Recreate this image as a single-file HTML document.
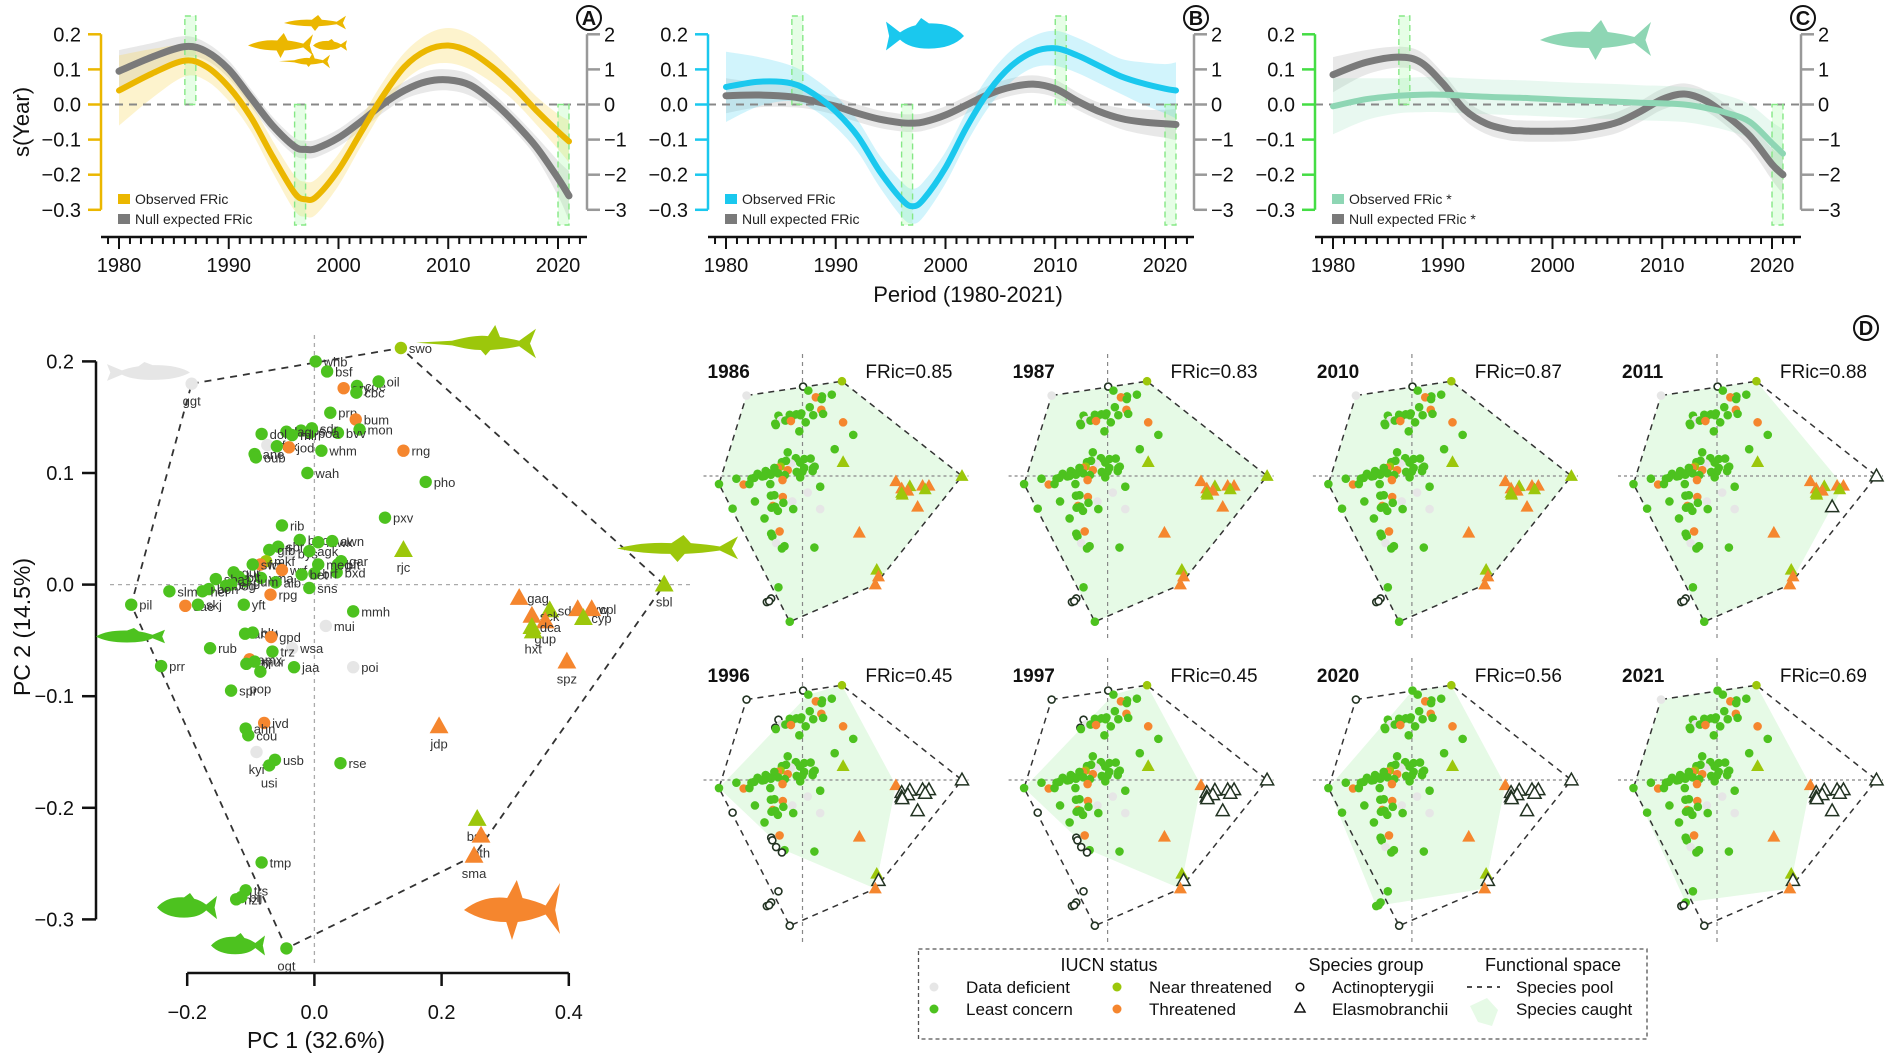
<!DOCTYPE html>
<html><head><meta charset="utf-8"><title>Functional richness figure</title>
<style>
html,body{margin:0;padding:0;background:#fff;}
svg{display:block;font-family:"Liberation Sans",Arial,sans-serif;}
</style></head>
<body>
<svg id="fig" width="1890" height="1055" viewBox="0 0 1890 1055" xmlns="http://www.w3.org/2000/svg"></svg>
<script>
// ---------- GAM panel data ----------
const years = [1980,1983,1986,1988,1990,1992,1994,1996,1997,1998,2000,2002,2004,2006,2008,2010,2012,2014,2016,2018,2020,2021];
const obsA = [0.04,0.088,0.125,0.107,0.05,-0.035,-0.148,-0.252,-0.27,-0.262,-0.186,-0.082,0.022,0.107,0.154,0.168,0.15,0.107,0.05,-0.016,-0.077,-0.105];
const obsSeA = [0.1,0.07,0.045,0.04,0.04,0.04,0.045,0.05,0.05,0.05,0.045,0.04,0.04,0.04,0.045,0.05,0.05,0.045,0.04,0.04,0.05,0.06];
const nullA = [0.95,1.35,1.65,1.5,1.0,0.2,-0.6,-1.2,-1.28,-1.25,-0.95,-0.5,0.0,0.4,0.65,0.7,0.55,0.1,-0.5,-1.2,-2.1,-2.6];
const nullSeA = [0.6,0.4,0.3,0.25,0.25,0.25,0.25,0.25,0.25,0.25,0.25,0.25,0.25,0.25,0.3,0.3,0.3,0.25,0.25,0.3,0.5,0.7];
const obsB = [0.05,0.065,0.06,0.03,-0.02,-0.09,-0.19,-0.27,-0.29,-0.27,-0.18,-0.06,0.04,0.11,0.15,0.16,0.14,0.11,0.08,0.06,0.045,0.04];
const obsSeB = [0.1,0.07,0.05,0.045,0.045,0.045,0.045,0.05,0.05,0.05,0.045,0.045,0.045,0.045,0.045,0.05,0.05,0.05,0.05,0.06,0.07,0.08];
const nullB = [0.25,0.27,0.22,0.1,-0.05,-0.25,-0.42,-0.52,-0.53,-0.5,-0.3,0.0,0.3,0.5,0.58,0.45,0.1,-0.2,-0.4,-0.5,-0.55,-0.57];
const nullSeB = [0.5,0.35,0.3,0.25,0.25,0.25,0.25,0.25,0.25,0.25,0.25,0.25,0.25,0.25,0.25,0.25,0.25,0.25,0.3,0.35,0.4,0.45];
const obsC = [-0.005,0.015,0.025,0.028,0.028,0.025,0.022,0.02,0.019,0.018,0.015,0.012,0.01,0.008,0.005,0.003,0.0,-0.01,-0.025,-0.05,-0.11,-0.14];
const obsSeC = [0.08,0.06,0.05,0.05,0.05,0.05,0.05,0.05,0.05,0.05,0.05,0.05,0.05,0.05,0.05,0.05,0.05,0.05,0.05,0.05,0.06,0.07];
const nullC = [0.85,1.2,1.35,1.2,0.6,-0.15,-0.55,-0.72,-0.75,-0.76,-0.76,-0.74,-0.65,-0.5,-0.2,0.15,0.3,0.1,-0.35,-0.9,-1.7,-2.0];
const nullSeC = [0.5,0.35,0.3,0.3,0.3,0.3,0.3,0.3,0.3,0.3,0.3,0.3,0.3,0.3,0.3,0.3,0.3,0.3,0.3,0.35,0.45,0.55];
const leftTicks = [0.2,0.1,0.0,-0.1,-0.2,-0.3];
const leftTickLabels = ["0.2","0.1","0.0","\u22120.1","\u22120.2","\u22120.3"];
const rightTicks = [2,1,0,-1,-2,-3];
const rightTickLabels = ["2","1","0","\u22121","\u22122","\u22123"];
const yearTicks = [1980,1990,2000,2010,2020];
const barsA = [[1986,"up"],[1996,"down"],[2020,"down"]];
const barsB = [[1986,"up"],[1996,"down"],[2010,"up"],[2020,"down"]];
const barsC = [[1986,"up"],[2020,"down"]];

// ---------- PCA data ----------
const spNames = ["ggt","swo","whb","bsf","coe","oil","ory","cbc","prp","bum","mon","bvv","jos","sdr","poa","lag","mlr","dol","sfs","flx","jod","ane","oub","whm","rng","wah","pho","pxv","rjc","rib","boc","mwk","awn","bys","agk","sbr","gfb","mkf","for","swa","wrf","bft","gar","bxd","meg","brf","bet","vma","alb","gum","gur","blt","sba","bog","ehi","bon","her","sns","rpg","slm","pil","sae","skj","yft","mmh","mui","amb","blu","gpd","rub","wsa","trz","amx","cbr","mur","jaa","poi","prr","pop","spr","ivd","ahn","cou","kyi","usb","usi","rse","jdp","tmp","trs","hzl","bij","ogt","bsh","bth","sma","sbl","gag","sdu","cyw","cpl","sck","cyp","gup","dca","hxt","spz"];
const spPC1 = [-0.193,0.136,0.002,0.020,0.067,0.101,0.046,0.066,0.025,0.065,0.071,0.037,-0.021,-0.004,-0.007,-0.044,-0.035,-0.083,-0.074,-0.059,-0.040,-0.094,-0.092,0.011,0.140,-0.011,0.175,0.111,0.140,-0.051,-0.023,0.006,0.028,-0.039,-0.008,-0.057,-0.071,-0.076,-0.085,-0.097,-0.051,0.037,0.042,0.035,0.006,0.000,-0.020,-0.084,-0.061,-0.109,-0.127,-0.119,-0.155,-0.139,-0.131,-0.166,-0.176,-0.008,-0.069,-0.228,-0.288,-0.203,-0.183,-0.111,0.061,0.018,-0.109,-0.097,-0.068,-0.164,-0.035,-0.066,-0.102,-0.107,-0.094,-0.032,0.061,-0.241,-0.085,-0.131,-0.079,-0.108,-0.104,-0.091,-0.062,-0.071,0.041,0.196,-0.083,-0.108,-0.123,-0.115,-0.044,0.256,0.262,0.251,0.550,0.322,0.370,0.414,0.436,0.342,0.423,0.363,0.342,0.344,0.397];
const spPC2 = [0.180,0.212,0.200,0.191,0.178,0.182,0.176,0.172,0.154,0.148,0.139,0.136,0.138,0.140,0.136,0.137,0.134,0.135,0.125,0.124,0.123,0.117,0.114,0.120,0.120,0.100,0.092,0.060,0.031,0.053,0.040,0.038,0.039,0.028,0.030,0.034,0.031,0.021,0.018,0.018,0.013,0.018,0.021,0.011,0.018,0.010,0.009,0.006,0.002,0.003,0.011,0.007,0.005,-0.001,0.000,-0.004,-0.006,-0.003,-0.009,-0.006,-0.018,-0.019,-0.018,-0.018,-0.024,-0.037,-0.044,-0.043,-0.047,-0.057,-0.057,-0.060,-0.067,-0.071,-0.069,-0.074,-0.074,-0.073,-0.078,-0.095,-0.124,-0.129,-0.135,-0.150,-0.157,-0.162,-0.160,-0.127,-0.249,-0.274,-0.282,-0.280,-0.326,-0.210,-0.225,-0.243,0.000,-0.012,-0.023,-0.022,-0.022,-0.028,-0.030,-0.033,-0.038,-0.042,-0.069];
const spStatus = ["DD","NT","LC","LC","LC","LC","TH","LC","LC","TH","LC","LC","LC","LC","LC","LC","LC","LC","DD","LC","TH","LC","LC","LC","TH","LC","LC","LC","NT","LC","LC","LC","LC","DD","LC","LC","LC","NT","TH","LC","TH","LC","LC","LC","LC","LC","LC","LC","LC","LC","LC","LC","LC","LC","LC","LC","LC","LC","TH","LC","LC","TH","LC","LC","LC","DD","LC","LC","TH","LC","DD","LC","TH","LC","LC","LC","DD","LC","LC","LC","TH","LC","LC","DD","LC","LC","LC","TH","LC","LC","LC","LC","LC","NT","TH","TH","NT","TH","NT","TH","TH","TH","NT","TH","NT","NT","TH"];
const spGroup = ["A","A","A","A","A","A","A","A","A","A","A","A","A","A","A","A","A","A","A","A","A","A","A","A","A","A","A","A","E","A","A","A","A","A","A","A","A","A","A","A","A","A","A","A","A","A","A","A","A","A","A","A","A","A","A","A","A","A","A","A","A","A","A","A","A","A","A","A","A","A","A","A","A","A","A","A","A","A","A","A","A","A","A","A","A","A","A","E","A","A","A","A","A","E","E","E","E","E","E","E","E","E","E","E","E","E","E"];
const labelsBelow = ["ggt","ogt","sbl","sma","spz","jdp","rjc","bth","bsh","hxt","gup","usi","kyi","pop"];
const poolHull = ["ggt","swo","sbl","sma","ogt","pil"];
const miniYears = ["1986","1987","2010","2011","1996","1997","2020","2021"];
const miniFRic = ["0.85","0.83","0.87","0.88","0.45","0.45","0.56","0.69"];
const caughtHulls = [
  ["ggt","swo","sbl","sma","ogt","pil"],
  ["ggt","swo","sbl","sma","ogt","pil"],
  ["ggt","swo","sbl","sma","ogt","pil"],
  ["ggt","swo","cpl","sma","ogt","pil"],
  ["bsf","swo","gag","sma","usb","pil"],
  ["bsf","swo","gag","sma","usb","pil"],
  ["whb","swo","gag","sma","hzl","pil"],
  ["ggt","whb","swo","gag","sma","trs","pil"]
];

// ---------- helpers ----------
const NS = "http://www.w3.org/2000/svg";
const svg = document.getElementById("fig");
function mk(tag, attrs, parent){
  const e = document.createElementNS(NS, tag);
  for (const k in attrs) e.setAttribute(k, attrs[k]);
  (parent||svg).appendChild(e);
  return e;
}
function txt(s, attrs, parent){ const e = mk("text", attrs, parent); e.textContent = s; return e; }
function smooth(pts){
  let d = "M"+pts[0][0].toFixed(1)+","+pts[0][1].toFixed(1);
  for (let i=0;i<pts.length-1;i++){
    const p0=pts[i-1]||pts[i], p1=pts[i], p2=pts[i+1], p3=pts[i+2]||pts[i+1];
    const c1=[p1[0]+(p2[0]-p0[0])/6, p1[1]+(p2[1]-p0[1])/6];
    const c2=[p2[0]-(p3[0]-p1[0])/6, p2[1]-(p3[1]-p1[1])/6];
    d += " C"+c1[0].toFixed(1)+","+c1[1].toFixed(1)+" "+c2[0].toFixed(1)+","+c2[1].toFixed(1)+" "+p2[0].toFixed(1)+","+p2[1].toFixed(1);
  }
  return d;
}
function bandPath(xs, up, lo){
  const u = xs.map((x,i)=>[x,up[i]]);
  const l = xs.map((x,i)=>[x,lo[i]]).reverse();
  return smooth(u) + " L" + smooth(l).slice(1) + " Z";
}
const SHARK = "M0,20 Q20,10 45,12 L55,0 L61,12 Q75,14 85,17 L100,2 L95,20 L100,36 L85,23 Q70,27 56,28 L50,40 L44,28 Q20,28 0,20 Z";
const FISH = "M0,20 Q15,5 45,6 L55,0 L62,8 Q72,10 82,16 L100,4 L96,20 L100,36 L82,24 Q70,34 45,34 Q15,34 0,20 Z";
const SWORD = "M0,19 L30,17 Q50,10 60,12 L66,0 L70,13 Q80,15 86,17 L100,4 L95,20 L100,36 L86,23 Q75,26 62,27 L58,33 L54,27 Q45,27 30,22 Z";
function sil(kind, x0, y0, w, h, color, name, flip){
  const g = mk("g", {transform:"translate("+(flip?x0+w:x0)+","+y0+") scale("+(flip?-w/100:w/100)+","+(h/40)+")"});
  
  
  mk("path", {d: kind==="shark"?SHARK:(kind==="sword"?SWORD:FISH), fill: color}, g);
}

// ---------- GAM panels ----------
function panel(off, obs, obsSe, nul, nulSe, col, bandCol, axisCol, bars, labels, letter, name){
  const g = mk("g", {});
  
  
  const X = yr => off + 119 + (yr-1980)*10.975;
  const YL = v => 104.5 - v*351;
  const YR = v => 104.5 - v*35.1;
  const xs = years.map(X);
  const nb = mk("path", {d: bandPath(xs, nul.map((v,i)=>YR(v+nulSe[i])), nul.map((v,i)=>YR(v-nulSe[i]))), fill:"rgba(150,150,150,0.22)"}, g);
  
  
  const ob = mk("path", {d: bandPath(xs, obs.map((v,i)=>YL(v+obsSe[i])), obs.map((v,i)=>YL(v-obsSe[i]))), fill:bandCol}, g);
  
  
  const zl = mk("line", {x1:off+101, x2:off+587, y1:YL(0), y2:YL(0), stroke:"#888", "stroke-width":2, "stroke-dasharray":"8,6"}, g);
  
  
  bars.forEach(b=>{
    const y0 = b[1]==="up" ? 16 : YL(0);
    const y1 = b[1]==="up" ? YL(0) : 225;
    const r = mk("rect", {x:X(b[0]), y:y0, width:10.975, height:y1-y0, fill:"rgba(140,250,140,0.22)", stroke:"#86e886", "stroke-width":1.4, "stroke-dasharray":"6,4"}, g);
    
    
  });
  const nl = mk("path", {d: smooth(xs.map((x,i)=>[x,YR(nul[i])])), fill:"none", stroke:"#7a7a7a", "stroke-width":7, "stroke-linecap":"round"}, g);
  
  
  const ol = mk("path", {d: smooth(xs.map((x,i)=>[x,YL(obs[i])])), fill:"none", stroke:col, "stroke-width":6, "stroke-linecap":"round"}, g);
  
  
  const la = mk("g", {}, g);
  
  
  mk("line", {x1:off+101, x2:off+101, y1:YL(0.2), y2:YL(-0.3), stroke:axisCol, "stroke-width":2.5}, la);
  leftTicks.forEach((t,i)=>{
    mk("line", {x1:off+88, x2:off+101, y1:YL(t), y2:YL(t), stroke:axisCol, "stroke-width":2.5}, la);
    txt(leftTickLabels[i], {x:off+81, y:YL(t)+7, "text-anchor":"end", "font-size":20, fill:"#111"}, la);
  });
  const ra = mk("g", {}, g);
  
  
  mk("line", {x1:off+587, x2:off+587, y1:YR(2), y2:YR(-3), stroke:"#999", "stroke-width":2.5}, ra);
  rightTicks.forEach((t,i)=>{
    mk("line", {x1:off+587, x2:off+600, y1:YR(t), y2:YR(t), stroke:"#999", "stroke-width":2.5}, ra);
    txt(rightTickLabels[i], {x:off+604, y:YR(t)+7, "font-size":20, fill:"#111"}, ra);
  });
  const xa = mk("g", {}, g);
  
  
  mk("line", {x1:off+101, x2:off+587, y1:237, y2:237, stroke:"#111", "stroke-width":2.5}, xa);
  for (let yr=1979; yr<=2022; yr++){
    const major = yr%10===0;
    mk("line", {x1:X(yr), x2:X(yr), y1:237, y2:major?249:244, stroke:"#111", "stroke-width":2}, xa);
  }
  yearTicks.forEach(yr=> txt(String(yr), {x:X(yr), y:272, "text-anchor":"middle", "font-size":20, fill:"#111"}, xa));
  const lg = mk("g", {}, g);
  
  
  mk("rect", {x:off+118, y:194, width:12, height:10, fill:col}, lg);
  txt(labels[0], {x:off+135, y:204, "font-size":14, fill:"#222"}, lg);
  mk("rect", {x:off+118, y:214, width:12, height:10, fill:"#7a7a7a"}, lg);
  txt(labels[1], {x:off+135, y:224, "font-size":14, fill:"#222"}, lg);
  const lt = mk("g", {}, g);
  
  
  mk("circle", {cx:off+589, cy:18, r:12, fill:"#fff", stroke:"#111", "stroke-width":2}, lt);
  txt(letter, {x:off+589, y:25, "text-anchor":"middle", "font-size":20, "font-weight":"bold", fill:"#111"}, lt);
}
panel(0, obsA, obsSeA, nullA, nullSeA, "#ebb700", "rgba(250,215,90,0.3)", "#ebb700", barsA, ["Observed FRic","Null expected FRic"], "A", "panel-a");
panel(607, obsB, obsSeB, nullB, nullSeB, "#1ac8ee", "rgba(90,215,245,0.28)", "#1ac8ee", barsB, ["Observed FRic","Null expected FRic"], "B", "panel-b");
panel(1214, obsC, obsSeC, nullC, nullSeC, "#8ed6b4", "rgba(150,222,185,0.22)", "#44dd44", barsC, ["Observed FRic *","Null expected FRic *"], "C", "panel-c");
const yt = txt("s(Year)", {x:0, y:0, transform:"translate(29,122) rotate(-90)", "text-anchor":"middle", "font-size":22, fill:"#111"});


const pt = txt("Period (1980-2021)", {x:968, y:302, "text-anchor":"middle", "font-size":22, fill:"#111"});



sil("shark", 284, 15, 62, 16, "#ebb700", "shark-icon", false);
sil("shark", 248, 33, 65, 25, "#ebb700", "shark-icon", false);
sil("fish", 313, 39, 34, 13, "#ebb700", "tuna-icon", false);
sil("sword", 279, 53, 51, 17, "#ebb700", "swordfish-icon", false);
sil("fish", 886, 18, 78, 36, "#1ac8ee", "fish-icon", true);
sil("shark", 1540, 20, 111, 40, "#8ed6b4", "shark-icon", false);

// ---------- PCA main ----------
const STC = {DD:"#e6e6e6", LC:"#4dc21f", NT:"#9cc70b", TH:"#f5862e"};
const idx = {}; spNames.forEach((n,i)=> idx[n]=i);
const PX = v => 314.4 + v*636;
const PY = v => 584.6 - v*1116;
const pg = mk("g", {});


mk("line", {x1:314.4, x2:314.4, y1:335, y2:965, stroke:"#aaa", "stroke-width":1.3, "stroke-dasharray":"4,4"}, pg);
mk("line", {x1:110, x2:690, y1:584.6, y2:584.6, stroke:"#aaa", "stroke-width":1.3, "stroke-dasharray":"4,4"}, pg);
sil("fish", 107, 362, 83, 21, "#e6e6e6", "grey-fish-icon", true);
sil("sword", 416, 325, 120, 37, "#9cc70b", "swordfish-icon", false);
sil("shark", 617, 535, 121, 27, "#9cc70b", "shark-icon", false);
sil("fish", 96, 628, 69, 17, "#4dc21f", "green-fish-icon", false);
sil("fish", 157, 893, 60, 29, "#4dc21f", "green-fish-icon", false);
sil("fish", 211, 933, 54, 25, "#4dc21f", "green-fish-icon", false);
sil("shark", 464, 880, 96, 60, "#f5862e", "orange-shark-icon", false);
const hullPts = poolHull.map(n=>PX(spPC1[idx[n]])+","+PY(spPC2[idx[n]])).join(" ");
const ph = mk("polygon", {points:hullPts, fill:"none", stroke:"#333", "stroke-width":1.8, "stroke-dasharray":"7,6"}, pg);


function marker(parent, cx, cy, st, grp, r, hollow){
  let e;
  if (grp==="E"){
    const s = r*1.6;
    e = mk("polygon", {points:(cx)+","+(cy-s)+" "+(cx-s*0.95)+","+(cy+s*0.7)+" "+(cx+s*0.95)+","+(cy+s*0.7),
      fill: hollow?"#fff":STC[st], stroke: hollow?"#223322":"none", "stroke-width":1.5}, parent);
  } else {
    e = mk("circle", {cx:cx, cy:cy, r:hollow?r-0.8:r, fill: hollow?"#fff":STC[st], stroke: hollow?"#223322":"none", "stroke-width":1.6}, parent);
  }
  return e;
}
spNames.forEach((n,i)=>{
  const x = PX(spPC1[i]), y = PY(spPC2[i]);
  const m = marker(pg, x, y, spStatus[i], spGroup[i], 6.2, false);
  
  
  const below = labelsBelow.indexOf(n)>=0;
  const l = txt(n, below ? {x:x, y:y+22, "text-anchor":"middle", "font-size":13, fill:"#333"} : {x:x+8, y:y+5, "font-size":13, fill:"#333"}, pg);
  
  
});
const pya = mk("g", {}, pg);


mk("line", {x1:96, x2:96, y1:PY(0.2), y2:PY(-0.3), stroke:"#111", "stroke-width":2.5}, pya);
[0.2,0.1,0,-0.1,-0.2,-0.3].forEach((t,i)=>{
  mk("line", {x1:82, x2:96, y1:PY(t), y2:PY(t), stroke:"#111", "stroke-width":2.5}, pya);
  txt(leftTickLabels[i], {x:74, y:PY(t)+7, "text-anchor":"end", "font-size":20, fill:"#111"}, pya);
});
const pxa = mk("g", {}, pg);


mk("line", {x1:PX(-0.2), x2:PX(0.4), y1:973, y2:973, stroke:"#111", "stroke-width":2.5}, pxa);
[[-0.2,"\u22120.2"],[0,"0.0"],[0.2,"0.2"],[0.4,"0.4"]].forEach(t=>{
  mk("line", {x1:PX(t[0]), x2:PX(t[0]), y1:973, y2:986, stroke:"#111", "stroke-width":2.5}, pxa);
  txt(t[1], {x:PX(t[0]), y:1019, "text-anchor":"middle", "font-size":20, fill:"#111"}, pxa);
});
const t1 = txt("PC 1 (32.6%)", {x:316, y:1048, "text-anchor":"middle", "font-size":23, fill:"#111"});


const t2 = txt("PC 2 (14.5%)", {x:0, y:0, transform:"translate(30,627) rotate(-90)", "text-anchor":"middle", "font-size":23, fill:"#111"});


const ld = mk("g", {});


mk("circle", {cx:1866, cy:328, r:12, fill:"#fff", stroke:"#111", "stroke-width":2}, ld);
txt("D", {x:1866, y:335, "text-anchor":"middle", "font-size":20, "font-weight":"bold", fill:"#111"}, ld);

// ---------- mini plots ----------
const colX = [802.5, 1107.6, 1411.9, 1717];
const rowY = [476, 780];
function inPoly(x, y, poly){
  let ins=false;
  for (let i=0,j=poly.length-1;i<poly.length;j=i++){
    const xi=poly[i][0], yi=poly[i][1], xj=poly[j][0], yj=poly[j][1];
    if (((yi>y)!==(yj>y)) && (x < (xj-xi)*(y-yi)/(yj-yi)+xi)) ins=!ins;
  }
  return ins;
}
miniYears.forEach((yr,k)=>{
  const x0 = colX[k%4], y0 = rowY[Math.floor(k/4)];
  const MX = v => x0 + v*290;
  const MY = v => y0 - v*447;
  const g = mk("g", {});
  
  
  const hull = caughtHulls[k];
  const cpoly = hull.map(n=>[spPC1[idx[n]], spPC2[idx[n]]]);
  const cs = mk("polygon", {points: cpoly.map(p=>MX(p[0])+","+MY(p[1])).join(" "), fill:"#e6fae6"}, g);
  
  
  mk("line", {x1:x0, x2:x0, y1:y0-122, y2:y0+162, stroke:"#888", "stroke-width":1.2, "stroke-dasharray":"4,4"}, g);
  mk("line", {x1:x0-99, x2:x0+166, y1:y0, y2:y0, stroke:"#999", "stroke-width":1.6, "stroke-dasharray":"3,3"}, g);
  const pp = mk("polygon", {points: poolHull.map(n=>MX(spPC1[idx[n]])+","+MY(spPC2[idx[n]])).join(" "), fill:"none", stroke:"#333", "stroke-width":1.5, "stroke-dasharray":"6,5"}, g);
  
  
  spNames.forEach((n,i)=>{
    const caught = hull.indexOf(n)>=0 || inPoly(spPC1[i], spPC2[i], cpoly);
    const m = marker(g, MX(spPC1[i]), MY(spPC2[i]), spStatus[i], spGroup[i], 4.3, !caught);
    
    
  });
  const ly = txt(yr, {x:x0-95, y:y0-98, "font-size":19, "font-weight":"bold", fill:"#111"}, g);
  
  
  const lf = txt("FRic="+miniFRic[k], {x:x0+150, y:y0-98, "text-anchor":"end", "font-size":19, fill:"#111"}, g);
  
  
});

// ---------- legend ----------
const lgd = mk("g", {});


mk("rect", {x:918.5, y:949, width:728.5, height:90, fill:"#fff", stroke:"#555", "stroke-width":1.3, "stroke-dasharray":"4,3"}, lgd);
[["IUCN status",1109],["Species group",1366],["Functional space",1553]].forEach(h=>{
  txt(h[0], {x:h[1], y:971, "text-anchor":"middle", "font-size":18, fill:"#111"}, lgd);
});
const legItems = [["Data deficient",934,993,"DD"],["Least concern",934,1015,"LC"],["Near threatened",1117,993,"NT"],["Threatened",1117,1015,"TH"]];
legItems.forEach(it=>{
  const e = mk("g", {}, lgd);
  
  
  mk("circle", {cx:it[1], cy:it[2]-6, r:4.5, fill:STC[it[3]]}, e);
  txt(it[0], {x:it[1]+32, y:it[2], "font-size":17, fill:"#111"}, e);
});
const e1 = mk("g", {}, lgd);


mk("circle", {cx:1300, cy:987, r:3.8, fill:"none", stroke:"#111", "stroke-width":1.5}, e1);
txt("Actinopterygii", {x:1332, y:993, "font-size":17, fill:"#111"}, e1);
const e2 = mk("g", {}, lgd);


mk("polygon", {points:"1300,1003 1295,1012 1305,1012", fill:"none", stroke:"#111", "stroke-width":1.5}, e2);
txt("Elasmobranchii", {x:1332, y:1015, "font-size":17, fill:"#111"}, e2);
const e3 = mk("g", {}, lgd);


mk("line", {x1:1467, x2:1500, y1:987, y2:987, stroke:"#111", "stroke-width":1.5, "stroke-dasharray":"5,5"}, e3);
txt("Species pool", {x:1516, y:993, "font-size":17, fill:"#111"}, e3);
const e4 = mk("g", {}, lgd);


mk("polygon", {points:"1470,1006 1487,998 1498,1010 1492,1026 1478,1022", fill:"#e6fae6"}, e4);
txt("Species caught", {x:1516, y:1015, "font-size":17, fill:"#111"}, e4);
</script>
</body></html>
